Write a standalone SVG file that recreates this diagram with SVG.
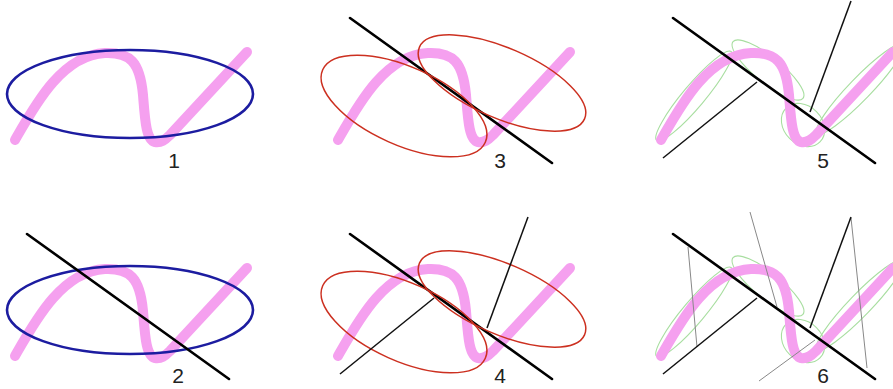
<svg xmlns="http://www.w3.org/2000/svg" width="893" height="389" viewBox="0 0 893 389">
<style>
.pink{fill:none;stroke:#f5a0ef;stroke-width:10;stroke-linecap:round;stroke-linejoin:round}
.blue{fill:none;stroke:#1c1ca0;stroke-width:2.6}
.red{fill:none;stroke:#cc3020;stroke-width:1.5}
.green{fill:none;stroke:#a8dea0;stroke-width:1.1}
.thick{stroke:#000;stroke-width:2.6;stroke-linecap:round}
.thin{stroke:#111;stroke-width:1.5}
.grey{stroke:#888;stroke-width:1}
.lbl{font-family:"Liberation Sans",Arial,sans-serif;font-size:21px;fill:#222;text-anchor:middle}
</style>
<defs>
<path id="curve" class="pink" d="M15,140 C35,105 62,55 105,53 C130,52 140,62 143,95 C145,120 146,140 155,142 C161,143 165,140 170,135 L247,52"/>
<ellipse id="blueEll" class="blue" cx="130" cy="94" rx="123" ry="44"/>
<line id="mainLine" class="thick" x1="27" y1="18" x2="229" y2="163"/>
<g id="redEll">
<ellipse class="red" cx="0" cy="0" rx="89" ry="39" transform="translate(81,106) rotate(24)"/>
<ellipse class="red" cx="0" cy="0" rx="90" ry="35" transform="translate(179,83) rotate(23.5)"/>
</g>
<g id="greenEll">
<ellipse class="green" cx="0" cy="0" rx="58" ry="11" transform="translate(48,96) rotate(-50)"/>
<ellipse class="green" cx="0" cy="0" rx="45" ry="13" transform="translate(122,70) rotate(39)"/>
<ellipse class="green" cx="0" cy="0" rx="24" ry="19" transform="translate(157,125) rotate(45)"/>
<ellipse class="green" cx="0" cy="0" rx="62" ry="11" transform="translate(214,89) rotate(-46)"/>
</g>
<g id="normals">
<line class="thin" x1="17" y1="158" x2="111" y2="82"/>
<line class="thin" x1="164" y1="112" x2="205" y2="1"/>
</g>
</defs>
<g id="panel1">
<use href="#curve"/>
<use href="#blueEll"/>
<text class="lbl" x="174" y="168">1</text>
</g>
<g id="panel2" transform="translate(0,216)">
<use href="#curve"/>
<use href="#blueEll"/>
<use href="#mainLine"/>
<text class="lbl" x="178" y="167">2</text>
</g>
<g id="panel3" transform="translate(323,0)">
<use href="#curve"/>
<use href="#mainLine"/>
<use href="#redEll"/>
<text class="lbl" x="177" y="168">3</text>
</g>
<g id="panel4" transform="translate(323,216)">
<use href="#curve"/>
<use href="#mainLine"/>
<use href="#redEll"/>
<use href="#normals"/>
<text class="lbl" x="177" y="167">4</text>
</g>
<g id="panel5" transform="translate(646,0)">
<use href="#greenEll"/>
<use href="#curve"/>
<use href="#mainLine"/>
<use href="#normals"/>
<text class="lbl" x="177" y="168">5</text>
</g>
<g id="panel6" transform="translate(646,216)">
<use href="#greenEll"/>
<use href="#curve"/>
<g id="connectors">
<line class="grey" x1="42" y1="31" x2="51" y2="131"/>
<line class="grey" x1="104" y1="-4" x2="131" y2="91"/>
<line class="grey" x1="113" y1="165" x2="169" y2="124"/>
<line class="grey" x1="205" y1="2" x2="221" y2="152"/>
</g>
<use href="#mainLine"/>
<use href="#normals"/>
<text class="lbl" x="177" y="167">6</text>
</g>
</svg>
